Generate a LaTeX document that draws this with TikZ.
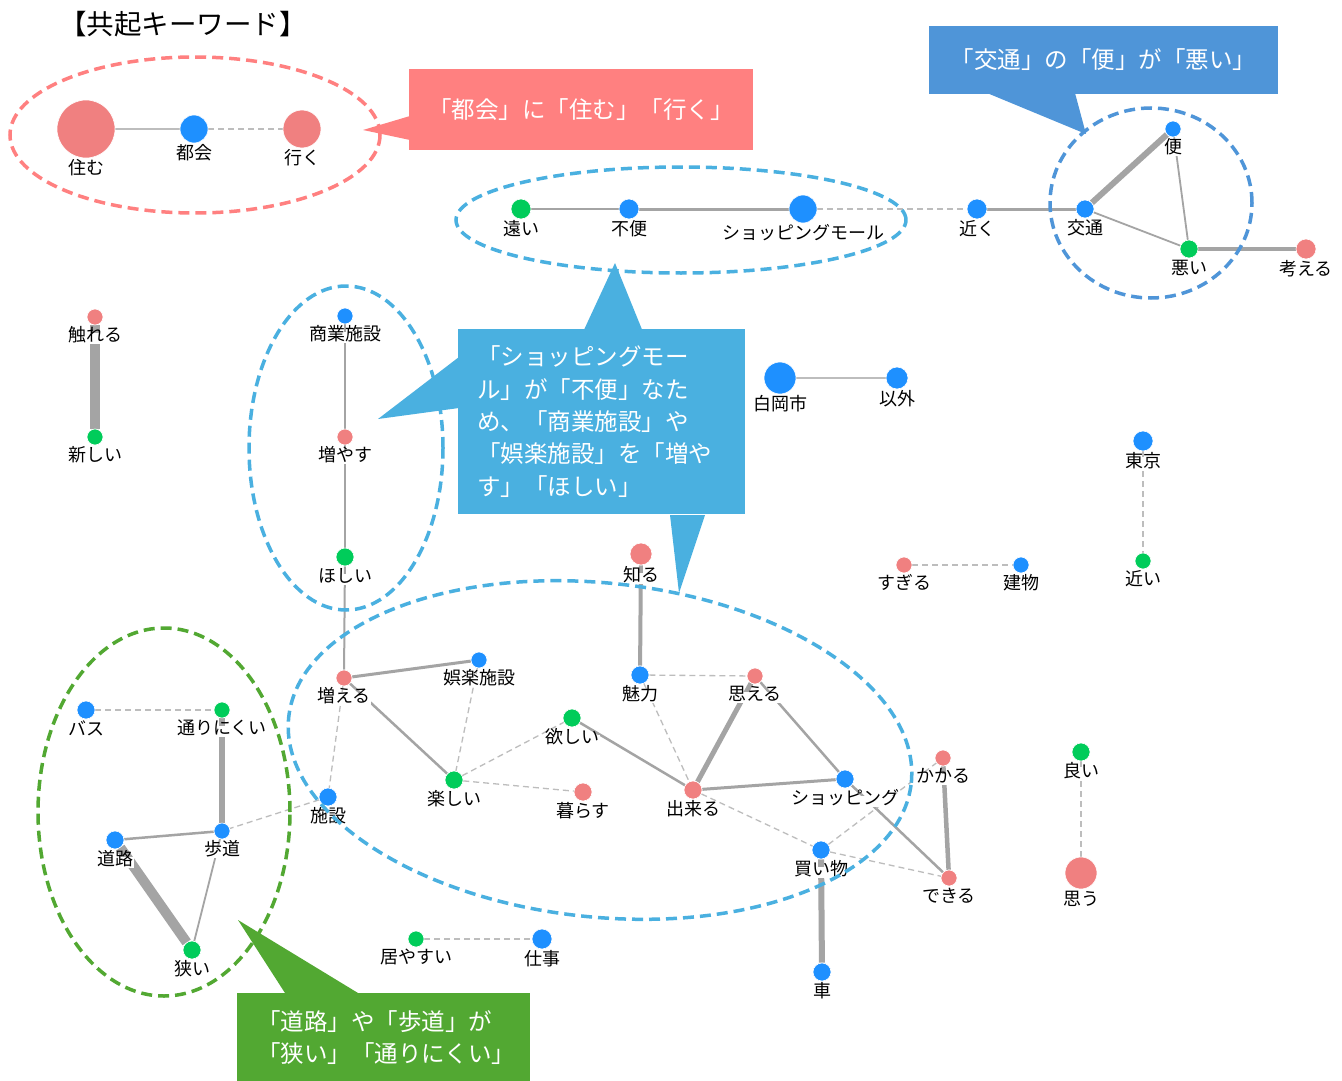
\documentclass[tikz,border=0pt]{standalone}
\usepackage{fontspec}
\newfontfamily\jp{Noto Sans CJK JP}
\usetikzlibrary{calc}
\pgfdeclarelayer{bgl}
\pgfdeclarelayer{edl}
\pgfsetlayers{bgl,edl,main}
\definecolor{nR}{HTML}{F08080}
\definecolor{nB}{HTML}{1E90FF}
\definecolor{nG}{HTML}{00CC5A}
\definecolor{eG}{HTML}{A4A4A4}
\definecolor{eL}{HTML}{BDBDBD}
\definecolor{cR}{HTML}{FF8080}
\definecolor{cB}{HTML}{4AB0E0}
\definecolor{cD}{HTML}{4F95D8}
\definecolor{cG}{HTML}{52A832}
\tikzset{
 kw/.style={circle, inner sep=0pt, draw=white, line width=0.6pt},
 lab/.style={font=\jp\fontsize{18}{18}\selectfont, inner sep=0.5pt, fill=white, text height=0.88em, text depth=0.12em},
 es/.style={draw=eG, line width=#1},
 ed/.style={draw=eL, line width=1.3pt, dash pattern=on 6pt off 4pt},
 grp/.style={line width=3.5pt, dash pattern=on 11pt off 6pt},
 cbox/.style={inner sep=0pt, text=white, font=\jp\fontsize{23.5}{32.3}\selectfont},
}
\newcommand\kwd[6]{\node[kw, fill=#5, minimum size=#4*2pt] (#1) at (#2,#3) {};
\node[lab] (#1l) at (#2,#3+#4+13) {#6};}
\begin{document}
\begin{tikzpicture}[x=1pt, y=-1pt]
\begin{pgfonlayer}{bgl}
\fill[white] (0,0) rectangle (1342,1081);
\end{pgfonlayer}
\useasboundingbox (0,0) rectangle (1342,1081);
\node[font=\jp\fontsize{27.5}{27.5}\selectfont, anchor=west, inner sep=0pt] (title) at (59,24) {【共起キーワード】};
% keywords
\kwd{sumu}{86}{129}{29}{nR}{住む}
\kwd{tokai}{194}{129}{14}{nB}{都会}
\kwd{iku}{302}{129}{19}{nR}{行く}
\kwd{tooi}{521}{209}{10}{nG}{遠い}
\kwd{fuben}{629}{209}{10}{nB}{不便}
\kwd{sm}{803}{209}{14}{nB}{ショッピングモール}
\kwd{chikaku}{977}{209}{10}{nB}{近く}
\kwd{kotsu}{1085}{209}{9}{nB}{交通}
\kwd{ben}{1173}{129}{8}{nB}{便}
\kwd{warui}{1189}{249}{9}{nG}{悪い}
\kwd{kangaeru}{1306}{249}{10}{nR}{考える}
\kwd{fureru}{95}{317}{8}{nR}{触れる}
\kwd{atarashii}{95}{437}{8}{nG}{新しい}
\kwd{shogyo}{345}{316}{8}{nB}{商業施設}
\kwd{fuyasu}{345}{437}{8}{nR}{増やす}
\kwd{hoshii}{345}{557}{9}{nG}{ほしい}
\kwd{fueru}{344}{678}{8}{nR}{増える}
\kwd{shiraoka}{780}{378}{16}{nB}{白岡市}
\kwd{igai}{897}{378}{11}{nB}{以外}
\kwd{tokyo}{1143}{441}{10}{nB}{東京}
\kwd{chikai}{1143}{561}{8}{nG}{近い}
\kwd{sugiru}{904}{565}{8}{nR}{すぎる}
\kwd{tatemono}{1021}{565}{8}{nB}{建物}
\kwd{shiru}{641}{554}{11}{nR}{知る}
\kwd{miryoku}{640}{675}{9}{nB}{魅力}
\kwd{omoeru}{755}{676}{8}{nR}{思える}
\kwd{goraku}{479}{660}{8}{nB}{娯楽施設}
\kwd{hoshii2}{572}{718}{9}{nG}{欲しい}
\kwd{tanoshii}{454}{780}{9}{nG}{楽しい}
\kwd{kurasu}{583}{792}{9}{nR}{暮らす}
\kwd{dekiru}{693}{790}{9}{nR}{出来る}
\kwd{shop}{845}{779}{9}{nB}{ショッピング}
\kwd{kakaru}{943}{758}{8}{nR}{かかる}
\kwd{kaimono}{821}{850}{9}{nB}{買い物}
\kwd{dekiru2}{949}{878}{8}{nR}{できる}
\kwd{kuruma}{822}{972}{9}{nB}{車}
\kwd{shisetsu}{328}{797}{9}{nB}{施設}
\kwd{yoi}{1081}{752}{9}{nG}{良い}
\kwd{omou}{1081}{873}{16}{nR}{思う}
\kwd{basu}{86}{710}{9}{nB}{バス}
\kwd{torinikui}{222}{710}{8}{nG}{通りにくい}
\kwd{doro}{115}{840}{9}{nB}{道路}
\kwd{hodo}{222}{831}{8}{nB}{歩道}
\kwd{semai}{192}{950}{9}{nG}{狭い}
\kwd{iyasui}{416}{939}{8}{nG}{居やすい}
\kwd{shigoto}{542}{939}{10}{nB}{仕事}
% edges
\begin{pgfonlayer}{edl}
\draw[es=1.6, draw=eL] (sumu) -- (tokai);
\draw[ed] (tokai) -- (iku);
\draw[es=1.5] (tooi) -- (fuben);
\draw[es=3] (fuben) -- (sm);
\draw[ed] (sm) -- (chikaku);
\draw[es=3] (chikaku) -- (kotsu);
\draw[es=6] (kotsu) -- (ben);
\draw[es=1.8] (kotsu) -- (warui);
\draw[es=1.8] (ben) -- (warui);
\draw[es=4] (warui) -- (kangaeru);
\draw[es=10] (fureru) -- (atarashii);
\draw[es=1.5] (shogyo) -- (fuyasu);
\draw[es=1.5] (fuyasu) -- (hoshii);
\draw[es=2] (hoshii) -- (fueru);
\draw[es=2, draw=eL] (shiraoka) -- (igai);
\draw[ed] (tokyo) -- (chikai);
\draw[ed] (sugiru) -- (tatemono);
\draw[es=4] (shiru) -- (miryoku);
\draw[ed] (miryoku) -- (omoeru);
\draw[ed] (miryoku) -- (dekiru);
\draw[es=5] (omoeru) -- (dekiru);
\draw[es=2.5] (omoeru) -- (shop);
\draw[es=3] (dekiru) -- (shop);
\draw[es=2.5] (hoshii2) -- (dekiru);
\draw[ed] (dekiru) -- (kaimono);
\draw[es=3] (fueru) -- (goraku);
\draw[es=2.5] (fueru) -- (tanoshii);
\draw[ed] (fueru) -- (shisetsu);
\draw[ed] (goraku) -- (tanoshii);
\draw[ed] (tanoshii) -- (hoshii2);
\draw[ed] (tanoshii) -- (kurasu);
\draw[ed] (shisetsu) -- (hodo);
\draw[es=2.5] (shop) -- (dekiru2);
\draw[ed] (kaimono) -- (kakaru);
\draw[ed] (kaimono) -- (dekiru2);
\draw[es=4.5] (kakaru) -- (dekiru2);
\draw[es=6] (kaimono) -- (kuruma);
\draw[ed] (yoi) -- (omou);
\draw[ed] (basu) -- (torinikui);
\draw[es=6] (torinikui) -- (hodo);
\draw[es=2.5] (doro) -- (hodo);
\draw[es=10] (doro) -- (semai);
\draw[es=1.8] (hodo) -- (semai);
\draw[ed] (iyasui) -- (shigoto);
\end{pgfonlayer}
% group outlines
\draw[grp, cR] (195,135) ellipse [x radius=185pt, y radius=78pt];
\draw[grp, cB] (681,220) ellipse [x radius=225pt, y radius=53pt];
\draw[grp, cD] (1151,203) ellipse [x radius=101pt, y radius=95pt];
\draw[grp, cB] (346,448) ellipse [x radius=97pt, y radius=162pt];
\draw[grp, cB, rotate around={-6:(600,750)}] (600,750) ellipse [x radius=313pt, y radius=167pt];
\draw[grp, cG] (164,812) ellipse [x radius=126pt, y radius=184pt];
% callouts
\node[cbox, fill=cR, minimum width=344pt, minimum height=81pt] (c1) at (581,109.5) {「都会」に「住む」「行く」};
\fill[cR] (410,116) -- (363,130) -- (410,140) -- cycle;
\node[cbox, fill=cD, minimum width=349pt, minimum height=68pt] (c2) at (1103.5,60) {「交通」の「便」が「悪い」};
\fill[cD] (987,93) -- (1086,134) -- (1075,93) -- cycle;
\node[cbox, fill=cB, minimum width=287pt, minimum height=185pt, align=left, text width=249pt] (c3) at (601.5,421.5) {「ショッピングモー\\ル」が「不便」なた\\め、「商業施設」や\\「娯楽施設」を「増や\\す」「ほしい」};
\fill[cB] (583,332) -- (615,263) -- (643,332) -- cycle;
\fill[cB] (459,357) -- (378,419) -- (459,408) -- cycle;
\fill[cB] (670,515) -- (679,593) -- (705,515) -- cycle;
\node[cbox, fill=cG, minimum width=293pt, minimum height=89pt, align=left, text width=253pt] (c4) at (383.5,1037.5) {「道路」や「歩道」が\\「狭い」「通りにくい」};
\fill[cG] (285,993) -- (238,920) -- (358,993) -- cycle;
\end{tikzpicture}
\end{document}
